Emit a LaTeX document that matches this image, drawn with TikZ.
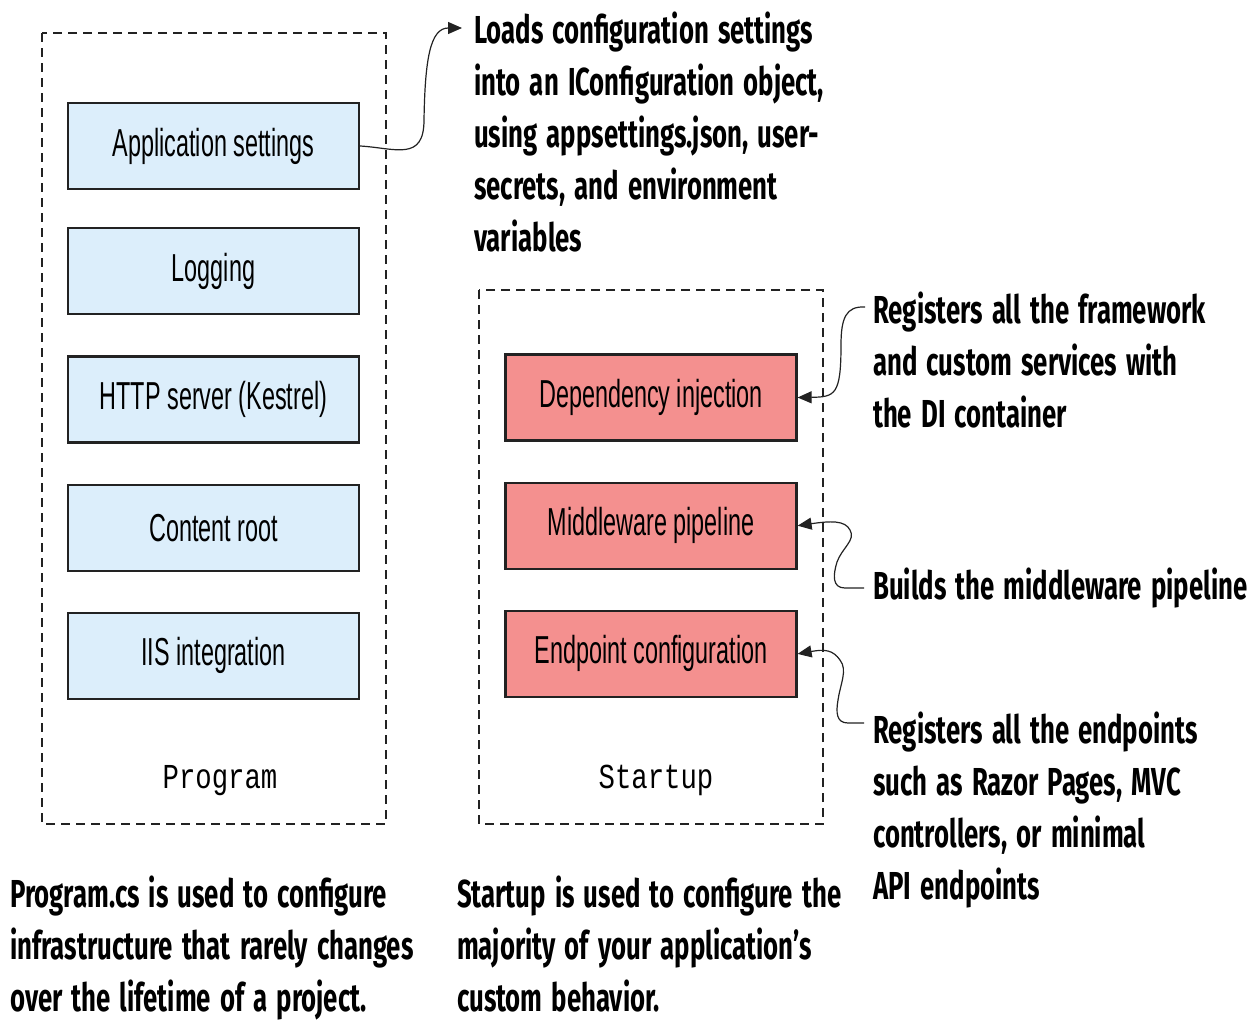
\documentclass[tikz,border=0pt]{standalone}
\usepackage{fontspec}
\setmainfont{Liberation Sans}
\newfontfamily\boxfont[FakeStretch=0.6]{Liberation Sans}
\newfontfamily\notefont[FakeStretch=0.66, WordSpace=1.5]{Fira Sans}
\newfontfamily\codefont[FakeStretch=0.78]{Liberation Mono}
\usetikzlibrary{positioning, arrows.meta}
\definecolor{infrablue}{HTML}{DCEEFB}
\definecolor{startred}{HTML}{F4908F}
\definecolor{edgegray}{HTML}{222222}

\begin{document}
\begin{tikzpicture}[
        x=1pt, y=-1pt,
        infra/.style={draw=edgegray, line width=2.2pt, fill=infrablue, minimum width=291pt, minimum height=86pt, font=\boxfont\fontsize{39}{44}\selectfont},
        custom/.style={infra, fill=startred},
        frame/.style={draw=edgegray, line width=1.6pt, dash pattern=on 9pt off 6pt},
        note/.style={anchor=base west, align=flush left, text width=420pt, inner sep=0pt, font=\notefont\bfseries\fontsize{39}{52}\selectfont},
        codelabel/.style={anchor=base, font=\codefont\fontsize{35}{40}\selectfont},
        callout/.style={draw=edgegray, line width=1.2pt, -{Triangle[length=14pt,width=12pt]}}
    ]
    \useasboundingbox (0,0) rectangle (1255,1020);

    % Dashed frames
    \draw[frame] (42,33) rectangle (386,824);
    \draw[frame] (479,290) rectangle (823,824);

    % Program side
    \node[infra] (appset) at (213.5,146) {Application settings};
    \node[infra, below=37pt of appset] (logging) {Logging};
    \node[infra, below=40pt of logging] (kestrel) {HTTP server (Kestrel)};
    \node[infra, below=40pt of kestrel] (contentroot) {Content root};
    \node[infra, below=40pt of contentroot] (iis) {IIS integration};
    \node[codelabel] (proglabel) at (220,788) {Program};

    % Startup side
    \node[custom] (dibox) at (651,397.5) {Dependency injection};
    \node[custom, below=40pt of dibox] (mwbox) {Middleware pipeline};
    \node[custom, below=40pt of mwbox] (epbox) {Endpoint configuration};
    \node[codelabel] (startlabel) at (656,788) {Startup};

    % Notes
    \node[note] (loadnote) at (474,43) {Loads configuration settings\\into an IConfiguration object,\\using appsettings.json, user-\\secrets, and environment\\variables};
    \node[note] (dinote) at (873,323) {Registers all the framework\\and custom services with\\the DI container};
    \node[note] (buildnote) at (873,599) {Builds the middleware pipeline};
    \node[note] (epnote) at (873,743) {Registers all the endpoints\\such as Razor Pages, MVC\\controllers, or minimal\\API endpoints};
    \node[note] (prognote) at (10,907) {Program.cs is used to configure\\infrastructure that rarely changes\\over the lifetime of a project.};
    \node[note] (startnote) at (457,907) {Startup is used to configure the\\majority of your application’s\\custom behavior.};

    % Callout ends
    \coordinate (loadin) at (462,28);
    \coordinate (diin) at (865,307);
    \coordinate (buildin) at (864,588);
    \coordinate (epin) at (864,723);

    % Callouts
    \draw[callout] (appset.east) .. controls (395,148) and (424,162) .. (424,120) .. controls (425,60) and (430,28) .. (loadin);
    \draw[callout] (diin) .. controls (846,306) and (841,318) .. (841,345) .. controls (841,395) and (835,397) .. (dibox.east);
    \draw[callout] (buildin) -- (845,588) .. controls (832,588) and (833,575) .. (837,562) .. controls (842,548) and (856,540) .. (850,530) .. controls (845,520) and (830,521) .. (mwbox.east);
    \draw[callout] (epin) -- (848,723) .. controls (836,723) and (836,712) .. (838,700) .. controls (840,685) and (848,670) .. (840,660) .. controls (833,650) and (825,649) .. (epbox.east);
\end{tikzpicture}
\end{document}
